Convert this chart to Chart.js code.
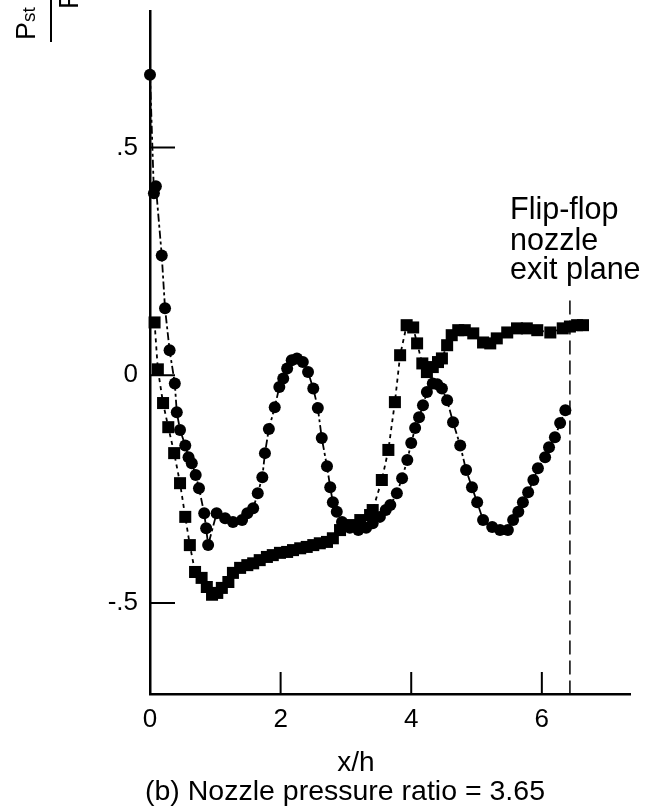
<!DOCTYPE html>
<html><head><meta charset="utf-8">
<script src="https://cdn.jsdelivr.net/npm/chart.js@4.4.0/dist/chart.umd.min.js"></script>
<style>html,body{margin:0;padding:0;background:#fff;}canvas{display:block;}</style>
</head><body>
<canvas id="c" width="656" height="812"></canvas>
<script>
// Circles series (x/h, Pst/P)
const circleX = [0.00,0.06,0.09,0.18,0.23,0.30,0.38,0.41,0.46,0.54,0.59,0.64,0.70,0.75,0.83,0.86,0.89,1.02,1.15,1.27,1.41,1.49,1.58,1.65,1.72,1.76,1.82,1.91,1.98,2.04,2.10,2.17,2.25,2.34,2.42,2.50,2.57,2.63,2.71,2.76,2.80,2.86,2.94,3.06,3.19,3.31,3.41,3.52,3.61,3.68,3.78,3.86,3.94,4.00,4.06,4.12,4.18,4.24,4.33,4.40,4.47,4.55,4.64,4.75,4.84,4.93,5.01,5.10,5.24,5.36,5.48,5.56,5.64,5.71,5.79,5.87,5.94,6.05,6.11,6.20,6.28,6.36];
const circleY = [0.66,0.40,0.415,0.263,0.147,0.055,-0.018,-0.081,-0.12,-0.154,-0.18,-0.193,-0.219,-0.248,-0.303,-0.336,-0.373,-0.303,-0.314,-0.322,-0.318,-0.303,-0.292,-0.259,-0.224,-0.171,-0.118,-0.070,-0.026,-0.007,0.015,0.033,0.037,0.029,0.007,-0.029,-0.072,-0.138,-0.200,-0.246,-0.279,-0.300,-0.322,-0.335,-0.340,-0.335,-0.325,-0.311,-0.296,-0.285,-0.259,-0.226,-0.186,-0.149,-0.116,-0.092,-0.066,-0.037,-0.018,-0.020,-0.029,-0.055,-0.103,-0.154,-0.208,-0.246,-0.279,-0.318,-0.333,-0.340,-0.340,-0.318,-0.300,-0.279,-0.257,-0.230,-0.204,-0.180,-0.158,-0.136,-0.105,-0.077];
// Squares series
const squareX = [0.07,0.12,0.20,0.28,0.37,0.46,0.54,0.61,0.69,0.79,0.87,0.95,1.03,1.10,1.20,1.27,1.38,1.49,1.58,1.68,1.79,1.88,1.99,2.10,2.19,2.30,2.40,2.50,2.60,2.71,2.80,2.91,3.06,3.22,3.37,3.41,3.55,3.65,3.75,3.83,3.93,4.03,4.09,4.17,4.24,4.33,4.41,4.47,4.55,4.62,4.72,4.82,4.95,5.10,5.21,5.31,5.47,5.62,5.77,5.93,6.13,6.32,6.43,6.54,6.63];
const squareY = [0.116,0.013,-0.061,-0.114,-0.171,-0.237,-0.311,-0.373,-0.432,-0.445,-0.465,-0.482,-0.478,-0.467,-0.454,-0.434,-0.423,-0.417,-0.413,-0.406,-0.399,-0.395,-0.390,-0.388,-0.384,-0.380,-0.377,-0.373,-0.369,-0.366,-0.358,-0.340,-0.329,-0.318,-0.307,-0.296,-0.230,-0.164,-0.059,0.044,0.110,0.105,0.070,0.026,0.007,0.018,0.029,0.037,0.066,0.088,0.099,0.099,0.092,0.072,0.070,0.081,0.094,0.103,0.103,0.099,0.094,0.103,0.107,0.110,0.110];
// Exit plane marker
const exitPlaneX = [6.43, 6.43];
const exitPlaneY = [0.164, -0.7];
// Ticks
const xTicks = [0, 2, 4, 6];
const xTickLabels = ['0', '2', '4', '6'];
const yTicks = [-0.5, 0, 0.5];
const yTickLabels = ['-.5', '0', '.5'];
const annotationLines = ['Flip-flop', 'nozzle', 'exit plane'];
const xTitle = 'x/h';
const caption = '(b) Nozzle pressure ratio = 3.65';

const FONT = "'Liberation Sans', Arial, Helvetica, sans-serif";
const pts = (xs, ys) => xs.map((x, i) => ({x: x, y: ys[i]}));

const extras = {
  id: 'extras',
  afterDraw(chart) {
    const ctx = chart.ctx, xs = chart.scales.x, ys = chart.scales.y, ca = chart.chartArea;
    ctx.save();
    ctx.strokeStyle = '#000'; ctx.lineWidth = 2;
    ctx.beginPath();
    xTicks.forEach(v => { if (v === 0) return; const p = xs.getPixelForValue(v); ctx.moveTo(p, ca.bottom); ctx.lineTo(p, ca.bottom - 22); });
    yTicks.forEach(v => { const p = ys.getPixelForValue(v); ctx.moveTo(ca.left, p); ctx.lineTo(ca.left + 25, p); });
    ctx.stroke();
    ctx.fillStyle = '#000';
    ctx.textAlign = 'left'; ctx.textBaseline = 'alphabetic';
    ctx.font = '30.5px ' + FONT;
    const base = [219, 250, 279];
    annotationLines.forEach((t, i) => ctx.fillText(t, 510, base[i]));
    ctx.textAlign = 'center';
    ctx.font = '28px ' + FONT;
    ctx.fillText(xTitle, 356, 771);
    ctx.font = '28.5px ' + FONT;
    ctx.fillText(caption, 345, 800);
    // y-axis label (rotated)
    ctx.save();
    ctx.rotate(-Math.PI / 2);
    ctx.textAlign = 'left';
    ctx.font = '27px ' + FONT;
    ctx.fillText('P', -40, 35);
    const pw = ctx.measureText('P').width;
    ctx.font = '19px ' + FONT;
    ctx.fillText('st', -40 + pw, 35);
    ctx.font = '27px ' + FONT;
    ctx.fillText('P', -9, 78);
    ctx.restore();
    ctx.beginPath(); ctx.lineWidth = 2;
    ctx.moveTo(51, 0); ctx.lineTo(51, 42); ctx.stroke();
    ctx.restore();
  }
};

new Chart(document.getElementById('c'), {
  type: 'scatter',
  data: {
    datasets: [
      { data: pts(circleX, circleY), showLine: true, borderColor: '#000', borderWidth: 1.8, borderDash: [8, 3, 3, 3],
        pointStyle: 'circle', pointRadius: 6, pointBackgroundColor: '#000', pointBorderColor: '#000', pointBorderWidth: 0, clip: false },
      { data: pts(squareX, squareY), showLine: true, borderColor: '#000', borderWidth: 1.8, borderDash: [4, 4],
        pointStyle: 'rect', pointRadius: 8.5, pointBackgroundColor: '#000', pointBorderColor: '#000', pointBorderWidth: 0, clip: false },
      { data: pts(exitPlaneX, exitPlaneY), showLine: true, borderColor: '#000', borderWidth: 1.5, borderDash: [14, 6],
        pointRadius: 0, clip: false }
    ]
  },
  options: {
    responsive: false, animation: false, devicePixelRatio: 1,
    layout: { padding: { left: 0, top: 11, right: 26, bottom: 0 } },
    plugins: { legend: { display: false }, tooltip: { enabled: false } },
    scales: {
      x: {
        type: 'linear', min: 0, max: 7.35,
        afterFit: s => { s.height = 118; s.paddingLeft = 0; s.paddingRight = 0; },
        afterBuildTicks: s => { s.ticks = xTicks.map(v => ({value: v})); },
        grid: { display: true, drawOnChartArea: false, drawTicks: false },
        border: { display: true, color: '#000', width: 2.5 },
        ticks: { color: '#000', font: { family: FONT, size: 26 }, padding: 10, maxRotation: 0,
          callback: v => { const i = xTicks.indexOf(v); return i >= 0 ? xTickLabels[i] : ''; } }
      },
      y: {
        type: 'linear', min: -0.7, max: 0.8,
        afterFit: s => { s.width = 150; s.paddingTop = 0; s.paddingBottom = 0; },
        afterBuildTicks: s => { s.ticks = yTicks.map(v => ({value: v})); },
        grid: { display: true, drawOnChartArea: false, drawTicks: false },
        border: { display: true, color: '#000', width: 2.5 },
        ticks: { color: '#000', font: { family: FONT, size: 26 }, padding: 12,
          callback: v => { const i = yTicks.indexOf(v); return i >= 0 ? yTickLabels[i] : ''; } }
      }
    }
  },
  plugins: [extras]
});
</script>
</body></html>
